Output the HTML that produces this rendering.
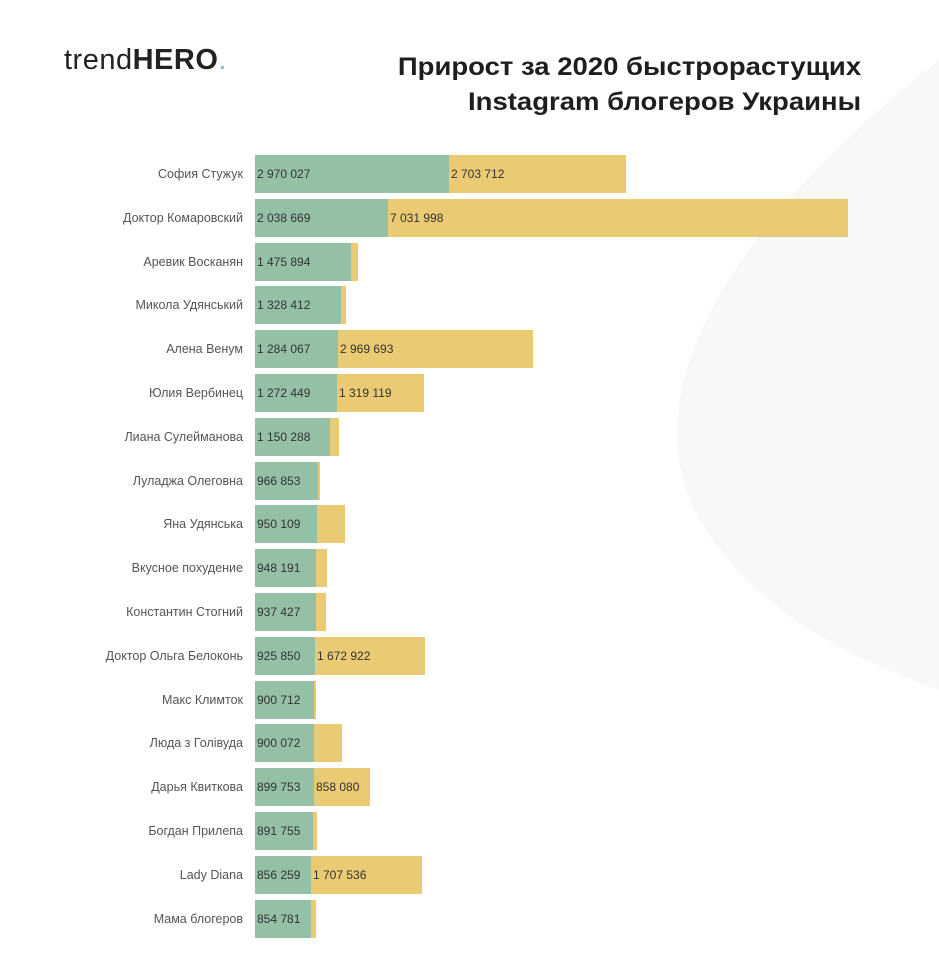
<!DOCTYPE html>
<html><head><meta charset="utf-8"><style>
body{margin:0;width:939px;height:964px;background:#fff;position:relative;overflow:hidden;font-family:"Liberation Sans",sans-serif}
.bg{position:absolute;left:0;top:0}
.logo{position:absolute;left:64px;top:44px;font-size:29px;color:#222;letter-spacing:0.5px}
.logo b{font-weight:700}
.title{position:absolute;right:78px;top:50px;text-align:right;font-weight:700;font-size:25px;line-height:35px;color:#1e1e1e;transform:scaleX(1.1);transform-origin:right top}
.row{position:absolute;left:0;height:38px;width:939px}
.lab{position:absolute;right:696px;top:0;line-height:38px;font-size:12.5px;color:#555;white-space:nowrap}
.g,.y{position:absolute;top:0;height:38px;line-height:38px;font-size:12px;color:#333;box-sizing:border-box;padding-left:2px;white-space:nowrap;overflow:hidden}
.g{background:#94c0a6}
.y{background:#ebca74}
</style></head><body>
<svg class="bg" width="939" height="964"><path d="M939 60 C760 200 620 380 700 520 C760 620 860 660 939 690 Z" fill="#f8f8fb"/></svg>
<div class="logo">trend<b>HERO</b><span style="color:#7fb8d8">.</span></div>
<div class="title">Прирост за 2020 быстрорастущих<br>Instagram блогеров Украины</div>
<div id="c"></div>
<script>
var d=[["София Стужук",449,626,"2 970 027","2 703 712"],["Доктор Комаровский",388,848,"2 038 669","7 031 998"],["Аревик Восканян",351,358,"1 475 894",""],["Микола Удянський",341,346,"1 328 412",""],["Алена Венум",338,533,"1 284 067","2 969 693"],["Юлия Вербинец",337,424,"1 272 449","1 319 119"],["Лиана Сулейманова",330,339,"1 150 288",""],["Луладжа Олеговна",318,318,"966 853",""],["Яна Удянська",317,345,"950 109",""],["Вкусное похудение",316,327,"948 191",""],["Константин Стогний",316,326,"937 427",""],["Доктор Ольга Белоконь",315,425,"925 850","1 672 922"],["Макс Климток",314,314,"900 712",""],["Люда з Голівуда",314,342,"900 072",""],["Дарья Квиткова",314,370,"899 753","858 080"],["Богдан Прилепа",313,317,"891 755",""],["Lady Diana",311,422,"856 259","1 707 536"],["Мама блогеров",311,316,"854 781",""]];
var h="";d.forEach(function(r,i){var t=155+i*43.8;h+='<div class="row" style="top:'+t+'px"><div class="lab">'+r[0]+'</div><div class="y" style="left:'+r[1]+'px;width:'+(r[2]-r[1])+'px">'+r[4]+'</div><div class="g" style="left:255px;width:'+(r[1]-255)+'px">'+r[3]+'</div></div>';});
document.getElementById("c").innerHTML=h;
</script>
</body></html>
